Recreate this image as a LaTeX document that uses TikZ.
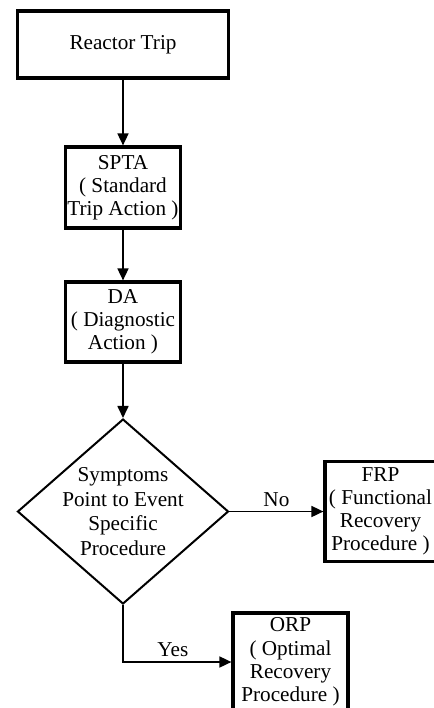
\documentclass[tikz,border=0pt]{standalone}
\usepackage{fontspec}
\setmainfont{Liberation Serif}
\usetikzlibrary{shapes.geometric,arrows.meta}
\begin{document}
\begin{tikzpicture}[x=0.5pt,y=-0.5pt,
  box/.style={draw,line width=1.6pt,inner sep=0pt,align=center,
    font=\fontsize{10.6}{11.6}\selectfont},
  link/.style={line width=0.85pt,-{Triangle[length=6pt,width=5.5pt]}},
  tag/.style={font=\fontsize{10.6}{11.6}\selectfont,inner sep=2pt}]
\useasboundingbox (0,0) rectangle (434,708);
\node (trip) [box,minimum width=105.5pt,minimum height=33.5pt] at (123,44.5) {Reactor Trip};
\node (spta) [box,minimum width=57.5pt,minimum height=40.5pt] at (123,187.5) {SPTA\\( Standard\\Trip Action )};
\node (da) [box,minimum width=57.5pt,minimum height=40pt] at (123,322) {DA\\( Diagnostic\\Action )};
\node (check) [diamond,draw,line width=1pt,inner sep=-15pt,minimum width=105.5pt,minimum height=92.5pt,
  align=center,font=\fontsize{10.6}{12.4}\selectfont] at (123,511.5) {Symptoms\\Point to Event\\Specific\\Procedure};
\node (frp) [box,minimum width=55.5pt,minimum height=50pt] at (380.5,511.5) {FRP\\( Functional\\Recovery\\Procedure )};
\node (orp) [box,minimum width=57.5pt,minimum height=49pt] at (290.5,662) {ORP\\( Optimal\\Recovery\\Procedure )};
\draw [link] (trip) -- (spta);
\draw [link] (spta) -- (da);
\draw [link] (da) -- (check);
\draw [link] (check) -- node [tag,above] {No} (frp);
\draw [link] (check.south) |- node [tag,above,pos=0.73] {Yes} (orp.west);
\end{tikzpicture}
\end{document}
